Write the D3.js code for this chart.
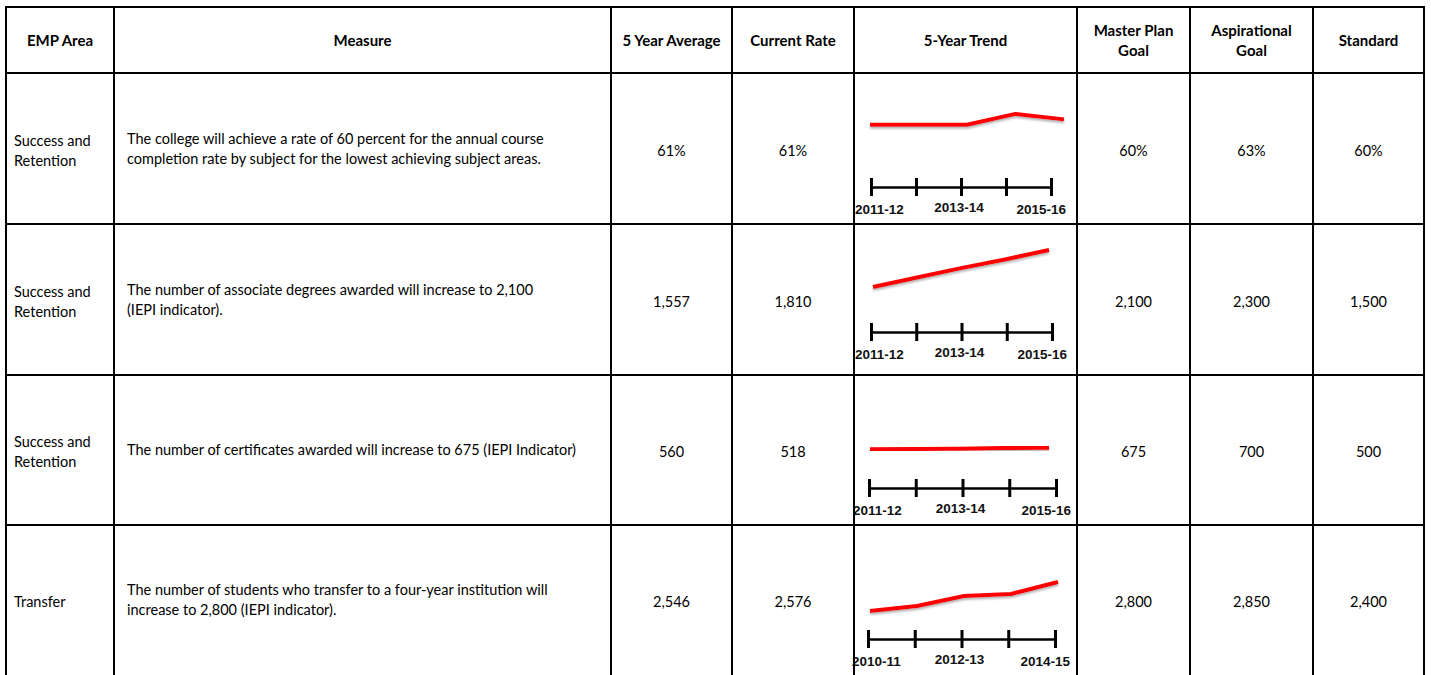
<!DOCTYPE html>
<html>
<head>
<meta charset="utf-8">
<script src="https://cdn.jsdelivr.net/npm/d3@7"></script>
<style>
  html, body { margin: 0; padding: 0; background: #fff; }
  svg { display: block; }
</style>
</head>
<body>
<div id="chart"></div>
<script>
// ---------- DATA ----------
const headers = [["EMP Area"], ["Measure"], ["5 Year Average"], ["Current Rate"], ["5-Year Trend"], ["Master Plan", "Goal"], ["Aspirational", "Goal"], ["Standard"]];
const empAreas = [["Success and", "Retention"], ["Success and", "Retention"], ["Success and", "Retention"], ["Transfer"]];
const measures = [
  ["The college will achieve a rate of 60 percent for the annual course", "completion rate by subject for the lowest achieving subject areas."],
  ["The number of associate degrees awarded will increase to 2,100", "(IEPI indicator)."],
  ["The number of certificates awarded will increase to 675 (IEPI Indicator)"],
  ["The number of students who transfer to a four-year institution will", "increase to 2,800 (IEPI indicator)."]
];
const fiveYearAverage = ["61%", "1,557", "560", "2,546"];
const currentRate = ["61%", "1,810", "518", "2,576"];
const masterPlanGoal = ["60%", "2,100", "675", "2,800"];
const aspirationalGoal = ["63%", "2,300", "700", "2,850"];
const standardValues = ["60%", "1,500", "500", "2,400"];

const trendYears = [
  ["2011-12", "2012-13", "2013-14", "2014-15", "2015-16"],
  ["2011-12", "2012-13", "2013-14", "2014-15", "2015-16"],
  ["2011-12", "2012-13", "2013-14", "2014-15", "2015-16"],
  ["2010-11", "2011-12", "2012-13", "2013-14", "2014-15"]
];
const trendValues = [
  [60, 60, 60, 63, 61.5],
  [1300, 1430, 1560, 1680, 1810],
  [558, 560, 562, 566, 568],
  [2340, 2390, 2490, 2510, 2630]
];
const trendDomains = [[49.5, 66], [928, 1755], [453, 853], [2300, 2900]];
const labelledYearIndex = [0, 2, 4];

// ---------- LAYOUT ----------
const W = 1431, H = 675;
const colEdges = [6, 114, 611, 732, 854, 1077, 1190, 1313, 1424];
const rowEdges = [7, 73, 224, 375, 525, 680];
const lineRanges = [[870, 1064], [873, 1049], [870, 1049], [870, 1058]];
const axisRanges = [[871, 1051], [871, 1052], [869, 1056], [868, 1055]];
const axisOffsets = [114, 108, 113, 114];
const FONT = "Lato, 'Open Sans', sans-serif";
const FS = 14.5;
const HFS = 15;
const LH = 20;

const svg = d3.select("#chart").append("svg")
  .attr("width", W).attr("height", H)
  .attr("viewBox", `0 0 ${W} ${H}`);

svg.append("rect").attr("width", W).attr("height", H).attr("fill", "#fff");

const defs = svg.append("defs");
const filt = defs.append("filter").attr("id", "shadow")
  .attr("x", "-5%").attr("y", "-100%").attr("width", "110%").attr("height", "300%");
filt.append("feGaussianBlur").attr("in", "SourceGraphic").attr("stdDeviation", 0.5).attr("result", "soft");
filt.append("feDropShadow").attr("in", "soft").attr("dx", 0).attr("dy", 2).attr("stdDeviation", 1.2)
  .attr("flood-color", "#777").attr("flood-opacity", 0.55);

// ---------- TEXT HELPER ----------
function multiText(g, lines, x, cy, anchor, weight, fs) {
  const t = g.append("text")
    .attr("text-anchor", anchor)
    .attr("font-family", FONT)
    .attr("font-size", fs)
    .attr("font-weight", weight)
    .attr("fill", "#000");
  const n = lines.length;
  lines.forEach((ln, i) => {
    t.append("tspan")
      .attr("x", x)
      .attr("y", cy + (i - (n - 1) / 2) * LH + fs * 0.35)
      .text(ln);
  });
  return t;
}

// ---------- HEADER ----------
const headG = svg.append("g");
headers.forEach((h, c) => {
  const cx = (colEdges[c] + colEdges[c + 1]) / 2;
  const cy = (rowEdges[0] + rowEdges[1]) / 2 + 1;
  multiText(headG, h, cx, cy, "middle", 700, HFS);
});

// ---------- BODY ----------
const bodyG = svg.append("g");
const numericCols = [
  { col: 2, vals: fiveYearAverage },
  { col: 3, vals: currentRate },
  { col: 5, vals: masterPlanGoal },
  { col: 6, vals: aspirationalGoal },
  { col: 7, vals: standardValues }
];

empAreas.forEach((area, r) => {
  const top = rowEdges[r + 1];
  const bot = Math.min(rowEdges[r + 2], H);
  const cy = (top + bot) / 2 + 2;
  multiText(bodyG, area, colEdges[0] + 8, cy, "start", 400, FS);
  multiText(bodyG, measures[r], colEdges[1] + 13, cy - 2, "start", 400, FS);
  numericCols.forEach(nc => {
    const cx = (colEdges[nc.col] + colEdges[nc.col + 1]) / 2;
    multiText(bodyG, [nc.vals[r]], cx, cy, "middle", 400, FS);
  });
});

// ---------- SPARKLINES ----------
trendValues.forEach((vals, r) => {
  const top = rowEdges[r + 1];
  const years = trendYears[r];
  const g = svg.append("g");

  const xLine = d3.scalePoint().domain(years).range(lineRanges[r]);
  const y = d3.scaleLinear().domain(trendDomains[r]).range([top + 90, top + 30]);

  const line = d3.line()
    .x((d, i) => xLine(years[i]))
    .y(d => y(d));

  g.append("path")
    .datum(vals)
    .attr("d", line)
    .attr("fill", "none")
    .attr("stroke", "#ff0000")
    .attr("stroke-width", 4)
    .attr("stroke-linejoin", "round")
    .attr("filter", "url(#shadow)");

  const xAxis = d3.scalePoint().domain(years).range(axisRanges[r]);
  const ay = top + axisOffsets[r];
  const axisG = g.append("g")
    .attr("transform", `translate(0,${ay})`)
    .call(d3.axisBottom(xAxis).tickSizeInner(18).tickSizeOuter(0).tickFormat(""));
  axisG.select(".domain").attr("stroke", "#000").attr("stroke-width", 2.6);
  axisG.selectAll(".tick line")
    .attr("y1", -9).attr("y2", 9)
    .attr("stroke", "#000").attr("stroke-width", 3);

  labelledYearIndex.forEach((k, j) => {
    const yr = years[k];
    const anchor = j === 0 ? "start" : (j === labelledYearIndex.length - 1 ? "end" : "middle");
    const dx = j === 0 ? -16 : (j === labelledYearIndex.length - 1 ? 15 : -2);
    const dy = j === 1 ? 25 : 27;
    g.append("text")
      .attr("x", xAxis(yr) + dx)
      .attr("y", ay + dy)
      .attr("text-anchor", anchor)
      .attr("font-family", "'Liberation Sans', Arial, sans-serif")
      .attr("font-weight", 700)
      .attr("font-size", 13.5)
      .attr("fill", "#111")
      .text(yr);
  });
});

// ---------- GRID LINES ----------
const gridG = svg.append("g").attr("stroke", "#000").attr("stroke-width", 2);
colEdges.forEach(x => {
  gridG.append("line").attr("x1", x).attr("x2", x)
    .attr("y1", rowEdges[0] - 1).attr("y2", H + 5);
});
rowEdges.slice(0, rowEdges.length - 1).forEach(yv => {
  gridG.append("line").attr("x1", colEdges[0] - 1).attr("x2", colEdges[colEdges.length - 1] + 1)
    .attr("y1", yv).attr("y2", yv);
});
</script>
</body>
</html>
